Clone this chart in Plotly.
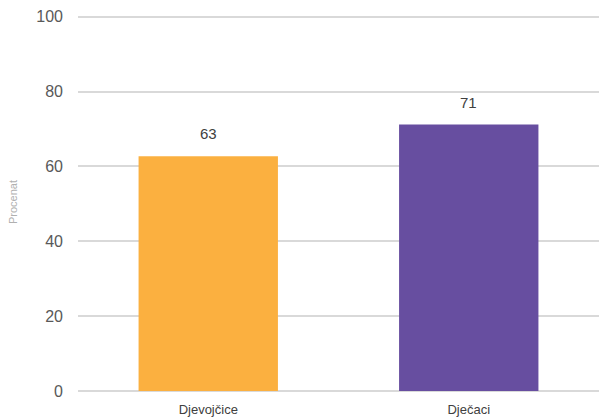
import plotly.graph_objects as go

categories = ["Djevojčice", "Dječaci"]
values = [62.7, 71.2]
labels = ["63", "71"]
colors = ["#FBB040", "#674EA0"]

fig = go.Figure()
fig.add_trace(go.Bar(
    x=categories, y=values, marker=dict(color=colors, line=dict(width=0)),
    width=0.535, hoverinfo="x+y",
))
for c, v, t in zip(categories, values, labels):
    fig.add_annotation(x=c, y=v, text=t, showarrow=False, yanchor="bottom",
                       yshift=12, font=dict(size=15, color="#404040", family="Liberation Sans"))
fig.update_layout(
    width=599, height=419,
    margin=dict(l=78, r=0, t=13, b=28),
    paper_bgcolor="white", plot_bgcolor="white",
    showlegend=False,
    font=dict(family="Liberation Sans"),
    xaxis=dict(showgrid=False, showline=False, ticks="",
               tickfont=dict(size=13, color="#404040"), ticklabelstandoff=9),
    yaxis=dict(range=[0, 101], tickvals=[0, 20, 40, 60, 80, 100],
               showgrid=True, gridcolor="#d9d9d9", gridwidth=2,
               zeroline=True, zerolinecolor="#d9d9d9", zerolinewidth=2,
               tickfont=dict(size=16, color="#595959"), ticklabelstandoff=14,
               title=dict(text="Procenat", font=dict(size=11, color="#b0b0b0"), standoff=16)),
)
fig.write_html("out.html", config={"displayModeBar": False},
               post_script="document.body.style.margin='0';")
